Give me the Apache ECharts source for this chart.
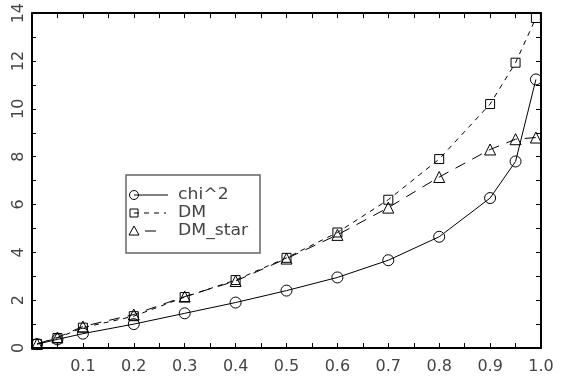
<!DOCTYPE html>
<html><head><meta charset="utf-8">
<script src="https://cdn.jsdelivr.net/npm/echarts@6/dist/echarts.min.js"></script>
<style>html,body{margin:0;padding:0;background:#fff}#chart{width:561px;height:379px}</style>
</head><body><div id="chart"></div>
<script>
// Sample positions along the x axis
const xValues = [0.01, 0.05, 0.1, 0.2, 0.3, 0.4, 0.5, 0.6, 0.7, 0.8, 0.9, 0.95, 0.99];
// Curves
const chi2   = [0.16, 0.36, 0.60, 1.00, 1.45, 1.90, 2.40, 2.95, 3.67, 4.65, 6.27, 7.80, 11.23];
const dm     = [0.17, 0.42, 0.85, 1.33, 2.13, 2.84, 3.77, 4.83, 6.20, 7.90, 10.20, 11.93, 13.80];
const dmStar = [0.17, 0.44, 0.90, 1.40, 2.15, 2.80, 3.74, 4.73, 5.87, 7.15, 8.30, 8.73, 8.80];
const seriesNames = ['chi^2', 'DM', 'DM_star'];
// Axis ticks
const xTickLabels = ['0.1', '0.2', '0.3', '0.4', '0.5', '0.6', '0.7', '0.8', '0.9', '1.0'];
const yTickLabels = ['0', '2', '4', '6', '8', '10', '12', '14'];

const AXIS_FONT = 'DejaVu Sans';
const TEXT_COLOR = '#444';

function pairs(ys) { return xValues.map((x, i) => [x, ys[i]]); }

const chart = echarts.init(document.getElementById('chart'), null, { renderer: 'canvas' });

const G = { left: 32, right: 20, top: 10, bottom: 31 };

function boxAxis(extra) {
  return Object.assign({
    axisLine: { show: true, onZero: false, lineStyle: { color: '#000', width: 2 } },
    axisTick: { show: true, inside: true, length: 5, lineStyle: { color: '#000', width: 1 } },
    minorTick: { show: true, splitNumber: 2, length: 5, lineStyle: { color: '#000', width: 1 } },
    splitLine: { show: false },
    minorSplitLine: { show: false }
  }, extra);
}

const xLabelFmt = v => {
  const s = (Math.round(v * 10) / 10).toFixed(1);
  return xTickLabels.indexOf(s) >= 0 ? s : '';
};
const yLabelFmt = v => {
  const s = String(Math.round(v));
  return yTickLabels.indexOf(s) >= 0 ? s : '';
};

const markerStyle = { color: 'rgba(0,0,0,0)', borderColor: '#000', borderWidth: 1 };

const lineSeries = [
  { name: seriesNames[0], data: pairs(chi2), symbol: 'circle', symbolSize: 11, lineStyle: { type: 'solid' } },
  { name: seriesNames[1], data: pairs(dm), symbol: 'rect', symbolSize: 9, lineStyle: { type: [5, 5] } },
  { name: seriesNames[2], data: pairs(dmStar), symbol: 'triangle', symbolSize: 11, lineStyle: { type: [11, 8] } }
].map(s => ({
  type: 'line',
  name: s.name,
  data: s.data,
  xAxisIndex: 0,
  yAxisIndex: 0,
  symbol: s.symbol,
  symbolSize: s.symbolSize,
  showAllSymbol: true,
  animation: false,
  lineStyle: Object.assign({ color: '#000', width: 1 }, s.lineStyle),
  itemStyle: markerStyle,
  z: 3
}));

// Legend box drawn as graphics: marker at the left, line style sample, then the name
const LX = 126, LY = 175, LW = 134, LH = 78;
const rows = [
  { y: 195, sym: 'circle', dash: null, x0: 134, x1: 168 },
  { y: 213, sym: 'rect', dash: [5, 5], x0: 134, x1: 166 },
  { y: 231, sym: 'triangle', dash: [11, 8], x0: 145, x1: 156 }
];
const legendGraphics = [{
  type: 'rect', shape: { x: LX, y: LY, width: LW, height: LH },
  style: { fill: '#fff', stroke: '#666', lineWidth: 1.5 }, z: 10
}];
rows.forEach((r, i) => {
  const sx = 134;
  legendGraphics.push({
    type: 'line', shape: { x1: r.x0, y1: r.y, x2: r.x1, y2: r.y },
    style: { stroke: '#000', lineWidth: 1, lineDash: r.dash || null }, z: 11
  });
  if (r.sym === 'circle') {
    legendGraphics.push({ type: 'circle', shape: { cx: sx, cy: r.y, r: 4.5 },
      style: { fill: null, stroke: '#000', lineWidth: 1 }, z: 12 });
  } else if (r.sym === 'rect') {
    legendGraphics.push({ type: 'rect', shape: { x: sx - 4, y: r.y - 4, width: 8, height: 8 },
      style: { fill: null, stroke: '#000', lineWidth: 1 }, z: 12 });
  } else {
    legendGraphics.push({ type: 'polygon', shape: { points: [[sx, r.y - 5], [sx - 5, r.y + 4], [sx + 5, r.y + 4]] },
      style: { fill: null, stroke: '#000', lineWidth: 1 }, z: 12 });
  }
  legendGraphics.push({
    type: 'text', x: 178, y: r.y, scaleX: 1.15,
    style: { text: seriesNames[i], font: '15px "DejaVu Sans"', fill: TEXT_COLOR, verticalAlign: 'middle', align: 'left' },
    z: 12
  });
});

chart.setOption({
  animation: false,
  backgroundColor: '#fff',
  grid: G,
  xAxis: [
    boxAxis({
      type: 'value', min: 0, max: 1, interval: 0.1, position: 'bottom',
      axisLabel: { show: true, formatter: xLabelFmt, margin: 11, color: TEXT_COLOR,
        fontFamily: AXIS_FONT, fontSize: 16, showMinLabel: true, showMaxLabel: true }
    }),
    boxAxis({
      type: 'value', min: 0, max: 1, interval: 0.1, position: 'top',
      axisLabel: { show: false },
      axisTick: { show: true, inside: true, length: 5, lineStyle: { color: '#000', width: 1 } },
      minorTick: { show: true, splitNumber: 2, length: 5, lineStyle: { color: '#000', width: 1 } }
    })
  ],
  yAxis: [
    boxAxis({
      type: 'value', min: 0, max: 14, interval: 2, position: 'left',
      axisTick: { show: true, inside: true, length: 4, lineStyle: { color: '#000', width: 1 } },
      minorTick: { show: true, splitNumber: 2, length: 4, lineStyle: { color: '#000', width: 1 } },
      axisLabel: { show: true, formatter: yLabelFmt, rotate: 90, margin: 5, align: 'center',
        verticalAlign: 'bottom', color: TEXT_COLOR, fontFamily: AXIS_FONT, fontSize: 16,
        showMinLabel: true, showMaxLabel: true }
    }),
    boxAxis({
      type: 'value', min: 0, max: 14, interval: 2, position: 'right',
      axisLabel: { show: false },
      axisTick: { show: true, inside: true, length: 5, lineStyle: { color: '#000', width: 1 } },
      minorTick: { show: true, splitNumber: 2, length: 5, lineStyle: { color: '#000', width: 1 } }
    })
  ],
  series: lineSeries,
  graphic: legendGraphics
});
</script>
</body></html>
